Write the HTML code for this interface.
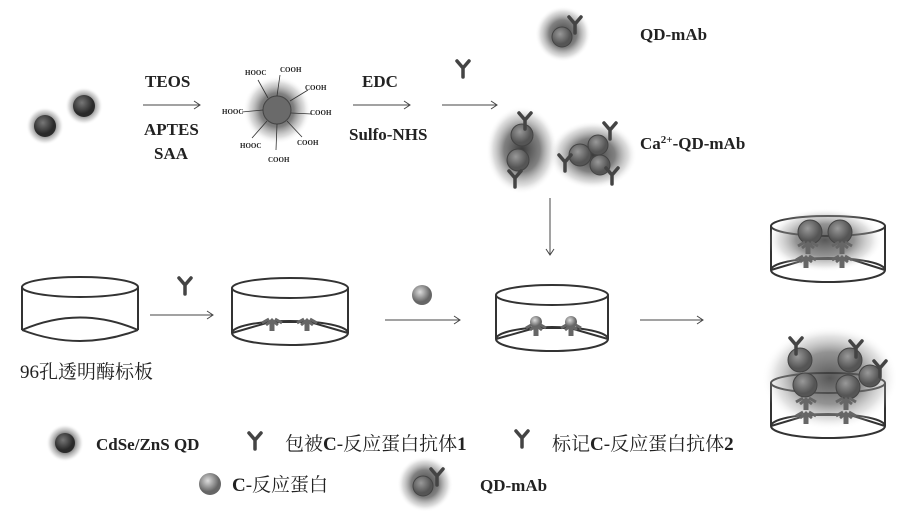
<!DOCTYPE html>
<html><head><meta charset="utf-8"><style>
html,body{margin:0;padding:0;background:#fff}
svg{display:block}
text{font-family:"Liberation Serif","Noto Serif CJK SC",serif;font-weight:bold;fill:#222}
.cj{font-weight:normal}
</style></head><body>
<svg width="906" height="519" viewBox="0 0 906 519" xmlns="http://www.w3.org/2000/svg">
<defs>
<radialGradient id="glow"><stop offset="0" stop-color="#3a3a3a"/><stop offset="0.5" stop-color="#6a6a6a" stop-opacity="0.85"/><stop offset="0.8" stop-color="#aaa" stop-opacity="0.4"/><stop offset="1" stop-color="#fff" stop-opacity="0"/></radialGradient>
<radialGradient id="core" cx="0.4" cy="0.35"><stop offset="0" stop-color="#777"/><stop offset="1" stop-color="#2a2a2a"/></radialGradient>
<radialGradient id="ball" cx="0.4" cy="0.35"><stop offset="0" stop-color="#ddd"/><stop offset="1" stop-color="#666"/></radialGradient>
<radialGradient id="qd2" cx="0.4" cy="0.35"><stop offset="0" stop-color="#999"/><stop offset="1" stop-color="#555"/></radialGradient>
<g id="ab"><path d="M0 0 L-6 -7 M0 0 L6 -7 M0 0 L0 9" stroke="#444" stroke-width="3.5" fill="none" stroke-linecap="round"/></g>
<g id="abp"><path d="M-6 0 L-1 -4 L-1 6 M6 0 L1 -4 L1 6 M-10 -2 L-3 -6 M10 -2 L3 -6" stroke="#666" stroke-width="3" fill="none"/></g>
</defs>
<g stroke="#444" stroke-width="1" fill="none">
<path d="M143 105 H200 M194 101 L200 105 L194 109"/>
<path d="M353 105 H410 M404 101 L410 105 L404 109"/>
<path d="M442 105 H497 M491 101 L497 105 L491 109"/>
<path d="M550 198 V255 M546 249 L550 255 L554 249"/>
<path d="M150 315 H213 M207 311 L213 315 L207 319"/>
<path d="M385 320 H460 M454 316 L460 320 L454 324"/>
<path d="M640 320 H703 M697 316 L703 320 L697 324"/>
</g>
<circle cx="45" cy="126" r="19" fill="url(#glow)"/><circle cx="45" cy="126" r="11" fill="url(#core)"/>
<circle cx="84" cy="106" r="19" fill="url(#glow)"/><circle cx="84" cy="106" r="11" fill="url(#core)"/>
<text x="145" y="87" font-size="17">TEOS</text>
<text x="144" y="135" font-size="17">APTES</text>
<text x="154" y="159" font-size="17">SAA</text>
<circle cx="277" cy="110" r="34" fill="url(#glow)"/><circle cx="277" cy="110" r="14" fill="#6a6a6a" stroke="#444"/>
<g stroke="#333" stroke-width="0.8" fill="none">
<path d="M277 96 L280 75"/><path d="M268 98 L258 80"/><path d="M290 101 L308 90"/><path d="M291 113 L312 114"/>
<path d="M287 121 L302 137"/><path d="M277 124 L276 150"/><path d="M267 121 L252 138"/><path d="M263 110 L242 112"/>
</g>
<g font-size="7" font-weight="normal">
<text x="280" y="72">COOH</text><text x="245" y="75">HOOC</text><text x="305" y="90">COOH</text><text x="310" y="115">COOH</text>
<text x="297" y="145">COOH</text><text x="268" y="162">COOH</text><text x="240" y="148">HOOC</text><text x="222" y="114">HOOC</text>
</g>
<text x="362" y="87" font-size="17">EDC</text>
<text x="349" y="140" font-size="17">Sulfo-NHS</text>
<use href="#ab" x="463" y="68"/>
<circle cx="563" cy="34" r="28" fill="url(#glow)"/><circle cx="562" cy="37" r="10" fill="url(#qd2)" stroke="#444"/><use href="#ab" x="575" y="24"/>
<text x="640" y="40" font-size="17">QD-mAb</text>
<ellipse cx="522" cy="150" rx="36" ry="44" fill="url(#glow)"/>
<circle cx="522" cy="135" r="11" fill="url(#qd2)" stroke="#444"/><circle cx="518" cy="160" r="11" fill="url(#qd2)" stroke="#444"/>
<use href="#ab" x="525" y="120"/><use href="#ab" x="515" y="178"/>
<ellipse cx="593" cy="155" rx="44" ry="34" fill="url(#glow)"/>
<circle cx="580" cy="155" r="11" fill="url(#qd2)" stroke="#444"/><circle cx="598" cy="145" r="10" fill="url(#qd2)" stroke="#444"/><circle cx="600" cy="165" r="10" fill="url(#qd2)" stroke="#444"/>
<use href="#ab" x="610" y="130"/><use href="#ab" x="565" y="162"/><use href="#ab" x="612" y="175"/>
<text x="640" y="149" font-size="17">Ca<tspan font-size="11" dy="-6">2+</tspan><tspan dy="6">-QD-mAb</tspan></text>
<g stroke="#333" stroke-width="2" fill="none">
<ellipse cx="80" cy="287" rx="58" ry="10"/><path d="M22 287 V330 M138 287 V330"/>
<path d="M22 330 Q80 305 138 330 M22 330 Q80 352 138 330"/>
<ellipse cx="290" cy="288" rx="58" ry="10"/><path d="M232 288 V333 M348 288 V333"/>
<ellipse cx="290" cy="333" rx="58" ry="12"/><path d="M232 333 L270 322 L310 322 L348 333"/>
<ellipse cx="552" cy="295" rx="56" ry="10"/><path d="M496 295 V339 M608 295 V339"/>
<ellipse cx="552" cy="339" rx="56" ry="12"/><path d="M496 339 L535 328 L570 328 L608 339"/>
<ellipse cx="828" cy="226" rx="57" ry="10"/><path d="M771 226 V270 M885 226 V270"/>
<ellipse cx="828" cy="270" rx="57" ry="12"/><path d="M771 270 L808 259 L850 259 L885 270"/>
<ellipse cx="828" cy="383" rx="57" ry="10"/><path d="M771 383 V426 M885 383 V426"/>
<ellipse cx="828" cy="426" rx="57" ry="12"/><path d="M771 426 L808 415 L850 415 L885 426"/>
</g>
<use href="#ab" x="185" y="285"/>
<use href="#abp" x="272" y="325"/><use href="#abp" x="307" y="325"/>
<circle cx="422" cy="295" r="10" fill="url(#ball)"/>
<use href="#abp" x="536" y="330"/><use href="#abp" x="571" y="330"/>
<circle cx="536" cy="322" r="6" fill="url(#ball)"/><circle cx="571" cy="322" r="6" fill="url(#ball)"/>
<ellipse cx="825" cy="240" rx="58" ry="32" fill="url(#glow)" opacity="0.85"/>
<circle cx="810" cy="232" r="12" fill="url(#qd2)" stroke="#444"/><circle cx="840" cy="232" r="12" fill="url(#qd2)" stroke="#444"/>
<use href="#abp" x="806" y="262"/><use href="#abp" x="842" y="262"/><use href="#abp" x="808" y="248"/><use href="#abp" x="842" y="248"/>
<ellipse cx="830" cy="378" rx="68" ry="52" fill="url(#glow)" opacity="0.85"/>
<circle cx="800" cy="360" r="12" fill="url(#qd2)" stroke="#444"/><circle cx="850" cy="360" r="12" fill="url(#qd2)" stroke="#444"/>
<circle cx="805" cy="385" r="12" fill="url(#qd2)" stroke="#444"/><circle cx="848" cy="387" r="12" fill="url(#qd2)" stroke="#444"/>
<circle cx="870" cy="376" r="11" fill="url(#qd2)" stroke="#444"/>
<use href="#ab" x="796" y="345"/><use href="#ab" x="856" y="348"/><use href="#ab" x="880" y="368"/>
<use href="#abp" x="806" y="418"/><use href="#abp" x="846" y="418"/><use href="#abp" x="806" y="404"/><use href="#abp" x="846" y="404"/>
<text x="20" y="378" font-size="19" class="cj">96孔透明酶标板</text>
<circle cx="65" cy="443" r="19" fill="url(#glow)"/><circle cx="65" cy="443" r="10" fill="url(#core)"/>
<text x="96" y="450" font-size="17">CdSe/ZnS QD</text>
<use href="#ab" x="255" y="440"/>
<text x="285" y="450" font-size="19" class="cj">包被<tspan font-weight="bold">C</tspan>-反应蛋白抗体<tspan font-weight="bold">1</tspan></text>
<use href="#ab" x="522" y="438"/>
<text x="552" y="450" font-size="19" class="cj">标记<tspan font-weight="bold">C</tspan>-反应蛋白抗体<tspan font-weight="bold">2</tspan></text>
<circle cx="210" cy="484" r="11" fill="url(#ball)"/>
<text x="232" y="491" font-size="19" class="cj"><tspan font-weight="bold">C</tspan>-反应蛋白</text>
<circle cx="425" cy="484" r="28" fill="url(#glow)"/><circle cx="423" cy="486" r="10" fill="url(#qd2)" stroke="#444"/><use href="#ab" x="437" y="476"/>
<text x="480" y="491" font-size="17">QD-mAb</text>
</svg>
</body></html>
